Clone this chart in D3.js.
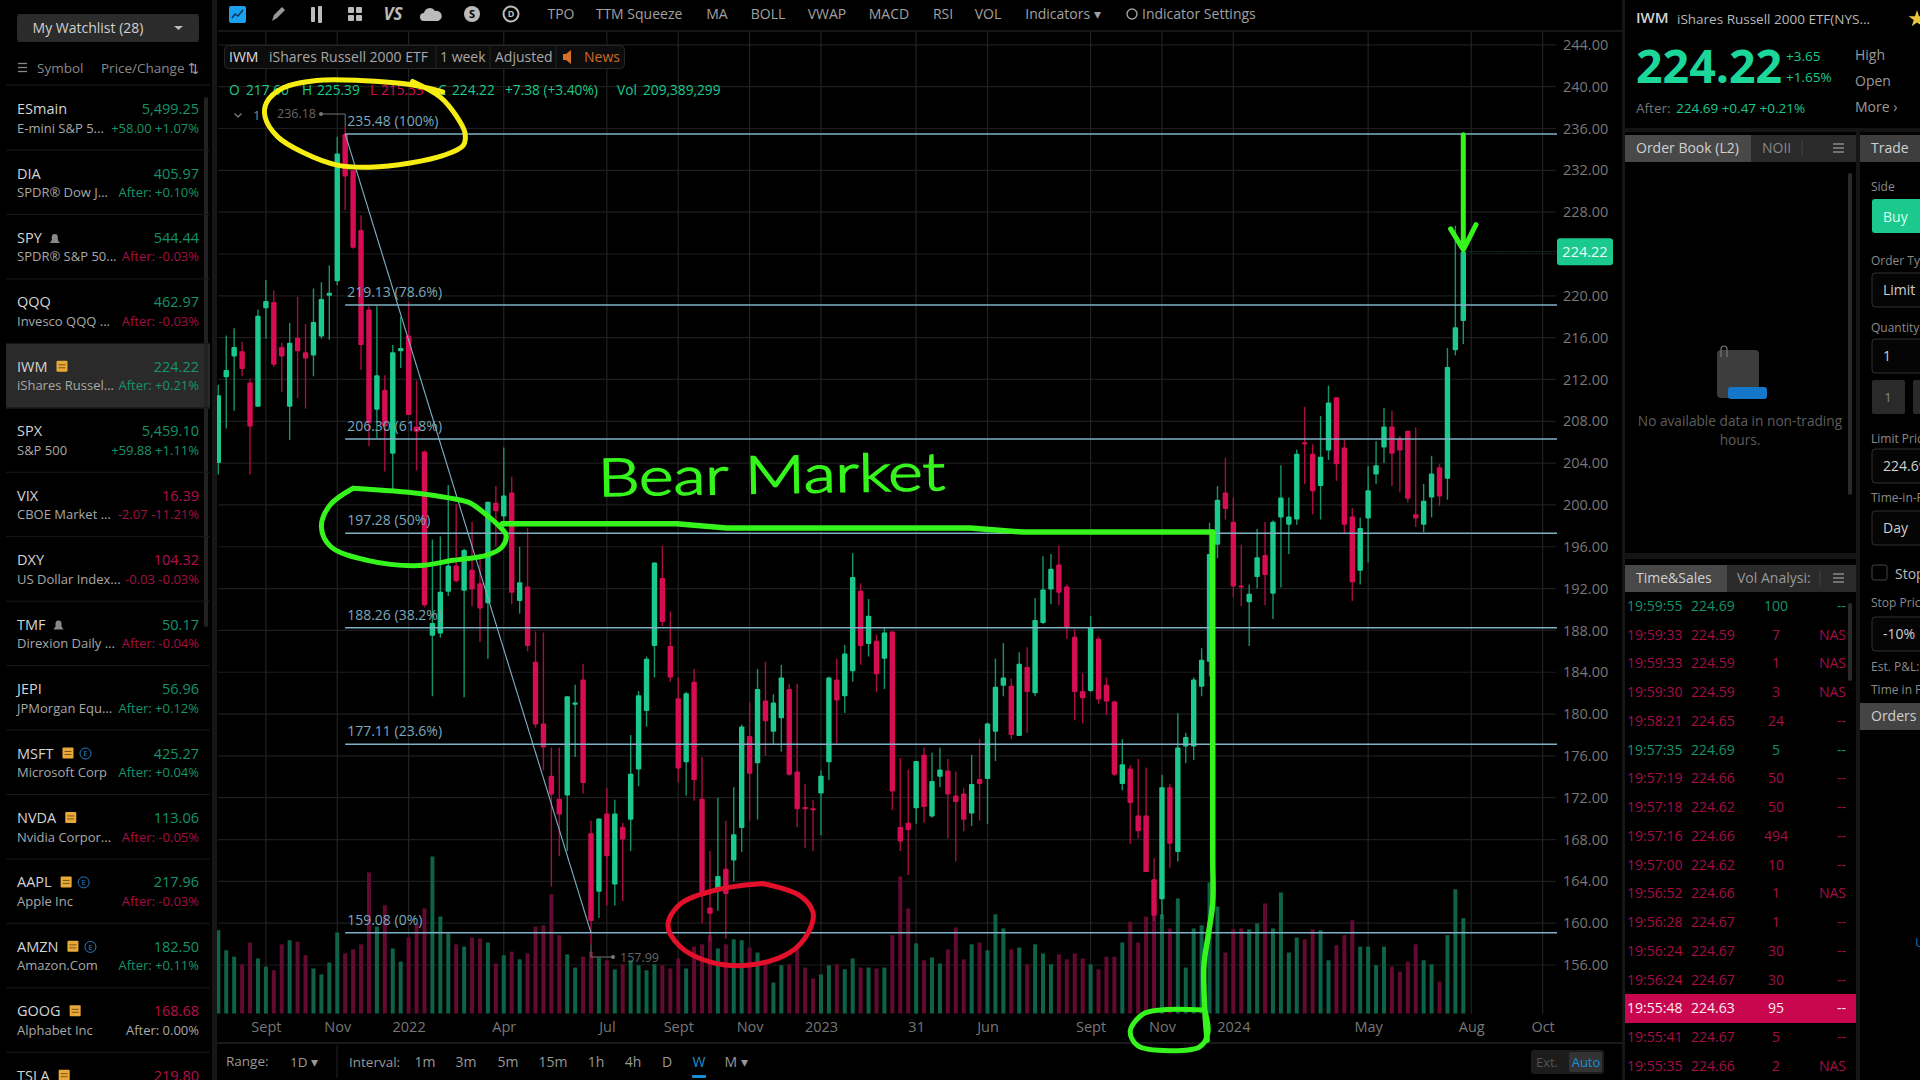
<!DOCTYPE html>
<html>
<head>
<meta charset="utf-8">
<script src="https://d3js.org/d3.v7.min.js"></script>
<style>
html, body { margin: 0; padding: 0; background: #000; overflow: hidden; }
svg { display: block; }
text { font-family: "Open Sans", "Noto Sans", sans-serif; }
</style>
</head>
<body>
<svg id="chart" width="1920" height="1080"></svg>
<script>
// weekly IWM candles
const opens = [204.0,212.2,214.2,214.7,211.7,209.4,218.8,219.4,215.1,209.4,
216.0,214.6,214.3,216.1,220.0,221.4,235.48,232.0,226.3,218.7,
209.1,211.0,204.9,214.7,216.2,207.5,205.1,187.5,187.7,191.7,
194.2,191.8,193.8,192.5,190.6,200.2,198.9,201.2,190.8,192.2,
185.0,179.1,174.1,171.9,172.2,180.9,183.3,168.6,163.0,170.5,
163.7,169.2,169.9,174.7,180.3,186.5,193.0,186.5,181.5,175.4,
183.1,171.9,161.5,163.3,165.2,166.0,169.1,177.9,175.3,181.3,
178.3,179.6,182.4,174.5,171.1,171.0,172.4,175.4,183.3,181.7,
184.1,191.8,186.7,187.0,185.3,187.9,169.2,169.6,171.0,176.1,
170.2,174.0,174.6,172.2,172.4,170.5,173.8,173.8,178.3,182.7,
182.7,177.9,184.5,182.0,188.7,191.9,194.3,192.2,187.4,182.2,
182.2,187.2,182.8,181.2,173.3,174.8,170.3,170.3,164.2,162.3,
173.0,166.8,176.9,176.9,182.6,185.0,196.2,201.2,198.4,192.3,
190.7,193.1,195.2,191.5,198.8,198.1,198.6,206.0,204.9,201.8,
205.2,210.3,205.5,198.9,193.7,198.7,202.9,205.5,207.5,206.4,
207.1,199.1,198.1,200.7,203.6,202.5,214.8,217.6];
const highs = [211.5,216.2,216.9,215.6,212.1,218.7,221.5,220.5,215.5,217.4,
219.9,217.3,220.7,221.3,222.9,235.2,236.18,232.0,227.7,219.0,
219.0,212.4,215.3,218.0,219.4,211.9,205.2,196.7,197.0,201.9,
200.1,195.8,198.4,195.0,200.3,201.8,205.5,202.7,196.0,197.8,
187.9,187.8,176.8,176.8,181.7,182.8,184.8,169.8,170.0,172.9,
171.8,169.6,178.0,182.2,185.5,194.5,196.1,189.8,183.5,182.1,
184.3,175.9,166.9,172.0,169.8,173.0,179.0,181.1,184.3,185.0,
181.9,184.7,182.9,182.9,173.3,171.8,174.6,183.6,185.3,186.6,
195.4,192.5,191.0,187.6,188.2,187.9,175.8,174.7,175.5,176.8,
176.3,176.8,175.7,174.5,172.9,176.1,177.6,179.2,185.3,186.8,
183.4,185.9,186.4,191.1,195.1,195.3,196.1,192.4,188.1,183.9,
189.4,187.4,183.5,181.3,177.6,175.1,175.7,174.9,166.2,174.2,
173.3,180.1,178.2,183.5,186.3,198.3,201.8,204.5,200.7,196.2,
192.4,197.7,198.4,198.5,203.8,200.7,205.3,209.4,205.8,208.5,
211.4,210.3,206.3,199.7,198.8,203.7,206.1,209.3,209.0,206.6,
207.1,207.4,202.0,204.7,203.9,215.0,226.7,225.39];
const lows = [202.9,207.3,209.0,212.3,202.9,209.4,215.9,213.2,210.8,206.2,
210.2,209.2,212.3,215.9,215.8,221.0,228.2,224.5,212.9,205.6,
206.4,203.2,201.4,213.1,208.6,203.3,190.2,181.7,187.3,191.3,
192.6,181.6,190.3,186.9,185.3,196.0,197.9,190.5,189.6,186.0,
178.7,174.6,163.5,166.4,166.9,175.9,172.4,157.99,160.5,161.7,
161.7,162.1,166.9,173.1,178.8,183.5,188.4,183.1,173.5,172.2,
171.7,160.0,158.2,161.2,158.5,164.0,166.8,169.8,169.9,176.0,
177.1,176.4,174.1,169.2,167.2,166.9,168.4,173.7,177.2,180.1,
183.1,184.7,185.5,182.1,182.4,170.8,166.9,164.6,169.5,169.6,
170.1,173.0,168.1,165.9,168.8,169.3,169.8,169.5,175.5,181.7,
177.6,177.9,178.2,181.7,188.6,190.5,190.4,187.2,179.4,179.1,
182.1,181.0,179.9,174.1,172.7,167.6,168.1,164.9,160.2,160.4,
165.3,165.9,175.3,175.6,181.7,183.6,194.9,198.6,191.2,190.3,
186.5,192.0,190.4,189.1,192.1,195.3,198.1,202.0,199.1,198.6,
204.3,202.3,197.2,190.8,192.4,194.5,202.0,204.0,201.8,201.2,
200.2,197.9,197.4,198.8,199.9,200.5,214.3,215.4];
const closes = [210.5,212.9,215.1,213.0,207.5,218.1,219.5,213.4,214.2,215.5,
214.7,214.0,217.5,219.7,220.3,233.6,231.4,224.6,215.3,207.8,
212.4,207.5,214.6,215.0,208.6,207.0,190.4,188.7,191.7,194.2,
192.7,195.7,191.9,190.1,200.3,199.4,200.9,191.6,192.6,186.5,
179.0,176.8,172.3,170.4,181.7,181.1,173.4,160.2,170.0,166.4,
170.5,168.0,174.3,181.8,185.3,194.5,188.8,183.5,174.8,182.0,
173.7,162.6,160.9,164.5,162.8,168.5,178.8,174.3,182.4,179.3,
181.1,183.5,174.2,170.9,170.9,170.8,174.1,183.5,181.3,185.8,
193.1,186.5,189.4,183.8,187.8,172.6,167.8,168.9,175.5,171.1,
173.6,174.7,172.3,171.6,169.9,173.3,173.3,179.1,182.6,183.5,
178.0,184.8,182.1,189.0,191.9,193.9,191.6,188.3,182.1,181.5,
188.3,181.4,181.2,174.2,175.2,171.5,168.8,164.9,160.7,173.0,
167.6,176.8,177.8,183.3,185.2,195.3,200.5,199.6,192.2,192.2,
191.5,195.0,193.3,198.4,200.7,198.9,204.9,205.8,201.3,204.6,
209.8,203.9,198.1,192.6,197.8,201.4,203.8,207.5,204.9,205.2,
200.6,198.7,200.4,203.0,200.8,213.2,217.0,224.22];
// volume in millions of shares
const volumes = [183,139,125,108,156,121,103,95,152,161,
158,128,99,86,112,178,132,141,152,310,
191,238,143,114,167,198,231,345,213,176,
152,147,167,165,156,110,128,136,119,132,
191,194,262,172,130,101,125,136,123,117,
97,108,117,106,95,108,106,99,121,99,
147,152,172,143,152,163,161,145,134,108,
68,106,108,141,101,77,86,106,108,97,
121,101,101,99,101,172,301,231,154,117,
123,110,141,189,119,152,156,139,218,187,
141,145,108,152,132,108,130,119,132,121,
108,97,125,125,156,202,156,213,218,218,
187,253,101,187,194,288,235,134,185,187,
185,198,242,187,266,134,167,163,185,183,
117,150,172,205,147,147,106,147,103,92,
114,152,117,108,70,172,273,209.389];

const priceTicks = d3.range(156, 245, 4);
const dateTickBars = [6,15,24,36,49,58,67,76,88,97,110,119,128,145,158,167];
const dateTickLabels = ["Sept","Nov","2022","Apr","Jul","Sept","Nov","2023","31","Jun","Sept","Nov","2024","May","Aug","Oct"];

const fibPrices = [235.48,219.13,206.30,197.28,188.26,177.11,159.08];
const fibPcts = ["100%","78.6%","61.8%","50%","38.2%","23.6%","0%"];
const swingHighBar = 16, swingLowBar = 47, lastBar = 157;

// the presenter's pen marks, as [bar, price]
const yellowInk = [[28.3,239.5],[24.2,240.2],[17.9,240.6],[12.4,240.6],[8.2,239.9],[6.1,238.5],[5.9,237.1],[7.5,235.2],[10.7,233.7],[15.0,232.5],[19.1,232.3],[24.2,232.7],[28.3,233.4],[30.9,234.4],[31.1,235.6],[30.1,237.1],[28.0,239.0],[24.5,240.5]];
const greenRing = [[17.0,201.6],[25.4,201.1],[29.6,200.6],[31.7,200.2],[33.9,199.0],[35.5,197.9],[36.3,197.1],[35.8,196.0],[33.9,195.2],[29.6,194.7],[25.4,194.2],[18.8,194.7],[14.2,196.0],[13.0,197.9],[14.1,200.0],[17.0,201.6]];
const greenRun = [[35.8,198.2],[57.8,198.2],[64.1,197.8],[94.8,197.8],[101.5,197.4],[125.4,197.4]];
const greenDrop = [[125.4,197.4],[125.4,183.4],[125.4,166.3],[125.4,161.9],[124.8,158.7],[124.3,156.0],[124.4,151.7],[124.7,148.8]];
const novLoop = [[124.4,151.7],[118.8,151.7],[116.6,151.3],[115.0,149.7],[115.9,148.3],[120.0,147.8],[123.8,148.2],[124.8,149.5],[124.4,151.7]];
const redInk = [[68.6,163.8],[73.4,162.6],[75.0,161.0],[74.4,159.1],[72.1,157.2],[67.0,156.0],[62.0,156.3],[58.2,157.8],[56.7,159.8],[58.2,161.8],[62.9,163.2],[68.6,163.8]];
const arrowShaft = [[157,235.4],[157,224.6]];
const arrowHead = [[155.4,226.4],[157,224.4],[158.6,226.8]];

const watchSymbols = ["ESmain","DIA","SPY","QQQ","IWM","SPX","VIX","DXY","TMF","JEPI","MSFT","NVDA","AAPL","AMZN","GOOG","TSLA"];
const watchNames = ["E-mini S&P 5...","SPDR® Dow J...","SPDR® S&P 50...","Invesco QQQ ...","iShares Russel...","S&P 500","CBOE Market ...","US Dollar Index...","Direxion Daily ...","JPMorgan Equ...","Microsoft Corp","Nvidia Corpor...","Apple Inc","Amazon.Com","Alphabet Inc",""];
const watchPrices = ["5,499.25","405.97","544.44","462.97","224.22","5,459.10","16.39","104.32","50.17","56.96","425.27","113.06","217.96","182.50","168.68","219.80"];
const watchSubs = ["+58.00 +1.07%","After: +0.10%","After: -0.03%","After: -0.03%","After: +0.21%","+59.88 +1.11%","-2.07 -11.21%","-0.03 -0.03%","After: -0.04%","After: +0.12%","After: +0.04%","After: -0.05%","After: -0.03%","After: +0.11%","After: 0.00%",""];
const watchPriceDown = ["VIX","DXY","GOOG","TSLA"];
const watchBell = ["SPY","TMF"];
const watchNote = ["IWM","MSFT","NVDA","AAPL","AMZN","GOOG","TSLA"];
const watchEarn = ["MSFT","AAPL","AMZN"];

const saleTimes = ["19:59:55","19:59:33","19:59:33","19:59:30","19:58:21","19:57:35","19:57:19","19:57:18","19:57:16","19:57:00","19:56:52","19:56:28","19:56:24","19:56:24","19:55:48","19:55:41","19:55:35"];
const salePrices = ["224.69","224.59","224.59","224.59","224.65","224.69","224.66","224.62","224.66","224.62","224.66","224.67","224.67","224.67","224.63","224.67","224.66"];
const saleSizes = [100,7,1,3,24,5,50,50,494,10,1,1,30,30,95,5,2];
const saleVenues = ["--","NAS","NAS","NAS","--","--","--","--","--","--","NAS","--","--","--","--","--","NAS"];
const saleUp = [0,5];
const saleBig = 14;

const toolLabels = ["TPO","TTM Squeeze","MA","BOLL","VWAP","MACD","RSI","VOL","Indicators ▾"];
const intervalLabels = ["1m","3m","5m","15m","1h","4h","D","W","M ▾"];

const UP = "#1bc98e", DOWN = "#d60d55", UPWICK = "#15936a", DOWNWICK = "#a90c45";
const UPVOL = "#0e6247", DOWNVOL = "#630a30";
const FIB = "#7fb2c6", PEN = "#35f51c";

const svg = d3.select("#chart");

function label(g, x, y, s, size, fill, anchor, weight) {
  return g.append("text").attr("x", x).attr("y", y).attr("dy", "0.35em")
    .attr("font-size", size).attr("fill", fill)
    .attr("text-anchor", anchor || "start").attr("font-weight", weight || 400).text(s);
}
function box(g, x, y, w, h, fill, r, stroke) {
  return g.append("rect").attr("x", x).attr("y", y).attr("width", w).attr("height", h)
    .attr("fill", fill).attr("rx", r || 0).attr("stroke", stroke || "none");
}

// scales
const x = d3.scaleLinear().domain([0, lastBar]).range([218.3, 1463.3]);
const y = d3.scaleLinear().domain([156, 236]).range([965, 128.5]);
const yVol = d3.scaleLinear().domain([0, 345]).range([1013.5, 856.5]);
const bars = d3.range(opens.length);
const isUp = i => closes[i] >= opens[i];

// grid
const grid = svg.append("g");
grid.selectAll(".gh").data(priceTicks).join("line")
  .attr("x1", 218).attr("x2", 1556).attr("y1", d => y(d)).attr("y2", d => y(d))
  .attr("stroke", "#1d1d1d").attr("stroke-width", 1.2);
grid.selectAll(".gv").data(dateTickBars).join("line")
  .attr("x1", d => x(d)).attr("x2", d => x(d)).attr("y1", 32).attr("y2", 1014)
  .attr("stroke", "#222").attr("stroke-width", 1.2);

// axes
const yAxis = d3.axisRight(y).tickValues(priceTicks).tickFormat(d3.format(".2f")).tickSize(0).tickPadding(0);
const gy = svg.append("g").attr("transform", "translate(1563,0)").call(yAxis);
const xAxis = d3.axisBottom(x).tickValues(dateTickBars).tickFormat((d, i) => dateTickLabels[i]).tickSize(0).tickPadding(0);
const gx = svg.append("g").attr("transform", "translate(0,1022)").call(xAxis);
[gy, gx].forEach(g => {
  g.select(".domain").remove();
  g.selectAll("text").attr("fill", "#777").attr("font-size", 14.5)
    .attr("font-family", '"Open Sans", sans-serif');
});

// volume and candles
svg.append("clipPath").attr("id", "plotClip").append("rect")
  .attr("x", 216.5).attr("y", 32).attr("width", 1340).attr("height", 985);
const plot = svg.append("g").attr("clip-path", "url(#plotClip)");

plot.selectAll(".vol").data(bars).join("rect")
  .attr("x", i => x(i) - 2).attr("width", 4)
  .attr("y", i => yVol(volumes[i])).attr("height", i => yVol(0) - yVol(volumes[i]))
  .attr("fill", i => isUp(i) ? UPVOL : DOWNVOL);

plot.selectAll(".wick").data(bars).join("line")
  .attr("x1", i => x(i)).attr("x2", i => x(i))
  .attr("y1", i => y(highs[i])).attr("y2", i => y(lows[i]))
  .attr("stroke", i => isUp(i) ? UPWICK : DOWNWICK).attr("stroke-width", 1.4);

plot.selectAll(".body").data(bars).join("rect")
  .attr("x", i => x(i) - 2.7).attr("width", 5.4).attr("rx", 1)
  .attr("y", i => y(Math.max(opens[i], closes[i])))
  .attr("height", i => Math.max(2, Math.abs(y(opens[i]) - y(closes[i]))))
  .attr("fill", i => isUp(i) ? UP : DOWN);

// fib retracement
const fib = svg.append("g");
fib.selectAll(".fl").data(fibPrices).join("line")
  .attr("x1", x(swingHighBar)).attr("x2", 1557)
  .attr("y1", d => y(d)).attr("y2", d => y(d))
  .attr("stroke", FIB).attr("stroke-width", 1.5);
fib.append("line")
  .attr("x1", x(swingHighBar)).attr("y1", y(fibPrices[0]))
  .attr("x2", x(swingLowBar)).attr("y2", y(fibPrices[6]))
  .attr("stroke", FIB).attr("stroke-width", 1.1);
fib.selectAll(".ft").data(fibPrices).join("text")
  .attr("x", x(swingHighBar) + 2).attr("y", d => y(d) - 8)
  .attr("font-size", 14).attr("fill", "#7ba8bd")
  .text((d, i) => `${d.toFixed(2)} (${fibPcts[i]})`);

// high/low callouts
const hi = svg.append("g");
label(hi, 277, 114, "236.18", 12.5, "#666");
hi.append("path").attr("fill", "none").attr("stroke", "#777")
  .attr("d", d3.line()([[320, 114], [x(swingHighBar), 114], [x(swingHighBar), y(highs[swingHighBar])]]));
hi.append("circle").attr("cx", 321).attr("cy", 114).attr("r", 2).attr("fill", "#777");
label(hi, 620, 958, "157.99", 12.5, "#666");
hi.append("path").attr("fill", "none").attr("stroke", "#777")
  .attr("d", d3.line()([[x(swingLowBar), y(lows[swingLowBar])], [x(swingLowBar), 957], [613, 957]]));
hi.append("circle").attr("cx", 613).attr("cy", 957).attr("r", 2).attr("fill", "#777");

// last price tag
svg.append("line").attr("x1", x(lastBar) + 3).attr("x2", 1557)
  .attr("y1", y(closes[lastBar])).attr("y2", y(closes[lastBar]))
  .attr("stroke", "#0f3d2c").attr("stroke-dasharray", "2,1");
box(svg, 1557, y(closes[lastBar]) - 13.5, 56, 27, UP, 3);
label(svg, 1585, y(closes[lastBar]), closes[lastBar].toFixed(2), 14.5, "#eafff6", "middle");

// chart header
const head = svg.append("g");
box(head, 224.5, 45.5, 400, 23, "#0c0c0c", 4, "#262626");
label(head, 229, 57, "IWM", 14, "#ddd");
label(head, 269, 57, "iShares Russell 2000 ETF", 14, "#a8a8a8");
label(head, 440, 57, "1 week", 14, "#a8a8a8");
label(head, 495, 57, "Adjusted", 14, "#a8a8a8");
label(head, 584, 57, "News", 14, "#cf6a27");
[436, 490, 556].forEach(v => head.append("line").attr("x1", v).attr("x2", v).attr("y1", 46).attr("y2", 68).attr("stroke", "#262626"));
head.append("path").attr("fill", "#d8702a").attr("d", "M563 54h3l5-4v14l-5-4h-3z");

const ohlc = [[229,"O",UP],[246,"217.60",UP],[302,"H",UP],[317,"225.39",UP],[370,"L",DOWN],[381,"215.53",DOWN],[438,"C",UP],[452,"224.22",UP],[505,"+7.38 (+3.40%)",UP],[617,"Vol",UP],[643,"209,389,299",UP]];
ohlc.forEach(d => label(head, d[0], 90, d[1], 13.7, d[2]));
label(head, 253, 115, "1", 13, "#888");
head.append("path").attr("fill", "none").attr("stroke", "#888").attr("stroke-width", 1.2).attr("d", "M234.5 113.5l3.5 3.5 3.5-3.5");

// toolbar
const tb = svg.append("g");
box(tb, 229, 6, 17, 17, "#19a0ef", 2);
tb.append("path").attr("d", "M232 18l3-4 3 2 5-6").attr("fill", "none").attr("stroke", "#06365a").attr("stroke-width", 1.5);
tb.append("path").attr("d", "M272 21l2-6 8-8 3 3-8 8z").attr("fill", "#999");
box(tb, 311, 7, 4, 15, "#bbb", 1); box(tb, 318, 6, 4, 17, "#bbb", 1);
[[348,7],[356,7],[348,15],[356,15]].forEach(d => box(tb, d[0], d[1], 6, 6, "#bbb", 1));
tb.append("text").attr("x", 393).attr("y", 20).attr("text-anchor", "middle").attr("font-size", 17).attr("font-weight", 700).attr("font-style", "italic").attr("fill", "#bbb").text("VS");
tb.append("path").attr("d", "M424 21a4 4 0 0 1 0-8a6 6 0 0 1 11-2a5 5 0 0 1 3 10z").attr("fill", "#bbb");
tb.append("circle").attr("cx", 472).attr("cy", 14).attr("r", 8).attr("fill", "#bbb");
label(tb, 472, 14, "S", 11, "#000", "middle", 700);
tb.append("circle").attr("cx", 511).attr("cy", 14).attr("r", 7.5).attr("fill", "none").attr("stroke", "#bbb").attr("stroke-width", 2);
label(tb, 511, 14, "D", 9, "#bbb", "middle", 700);
const toolX = [561,639,717,768,827,889,943,988,1063];
toolLabels.forEach((s, i) => label(tb, toolX[i], 14, s, 14, "#a0a0a0", "middle"));
tb.append("circle").attr("cx", 1132).attr("cy", 14).attr("r", 5).attr("fill", "none").attr("stroke", "#a0a0a0").attr("stroke-width", 1.4);
label(tb, 1142, 14, "Indicator Settings", 14, "#a0a0a0");
tb.append("line").attr("x1", 218).attr("x2", 1622).attr("y1", 31).attr("y2", 31).attr("stroke", "#1e1e1e").attr("stroke-width", 1.5);

// range / interval bar
const foot = svg.append("g");
foot.append("line").attr("x1", 216).attr("x2", 1622).attr("y1", 1043).attr("y2", 1043).attr("stroke", "#222").attr("stroke-width", 1.5);
label(foot, 226, 1061, "Range:", 13.5, "#999");
label(foot, 290, 1062, "1D ▾", 13.5, "#999");
foot.append("line").attr("x1", 337).attr("x2", 337).attr("y1", 1045).attr("y2", 1078).attr("stroke", "#222");
label(foot, 349, 1062, "Interval:", 13.5, "#999");
const intervalX = [425,466,508,553,596,633,667,699,736];
intervalLabels.forEach((s, i) => label(foot, intervalX[i], 1062, s, 14, s === "W" ? "#1a8fd6" : "#999", "middle"));
box(foot, 692, 1075, 14, 3, "#1a8fd6", 1);
box(foot, 1531, 1050, 73, 24, "#1c1c1c", 3);
box(foot, 1569, 1052, 33, 20, "#333", 2);
label(foot, 1547, 1062, "Ext.", 13, "#555", "middle");
label(foot, 1586, 1062, "Auto", 13, "#1a8fd6", "middle");

// pen marks
const pen = d3.line().x(d => x(d[0])).y(d => y(d[1])).curve(d3.curveCatmullRom.alpha(0.5));
const penStraight = d3.line().x(d => x(d[0])).y(d => y(d[1]));
const ink = svg.append("g").attr("fill", "none").attr("stroke-linecap", "round").attr("stroke-linejoin", "round");
ink.append("path").attr("d", pen(yellowInk)).attr("stroke", "#f6ee12").attr("stroke-width", 5);
ink.append("path").attr("d", pen(redInk)).attr("stroke", "#e3102b").attr("stroke-width", 5);
ink.append("path").attr("d", pen(greenRing)).attr("stroke", PEN).attr("stroke-width", 5);
ink.append("path").attr("d", penStraight(greenRun)).attr("stroke", PEN).attr("stroke-width", 5.5);
ink.append("path").attr("d", pen(greenDrop)).attr("stroke", PEN).attr("stroke-width", 5.5);
ink.append("path").attr("d", pen(novLoop)).attr("stroke", PEN).attr("stroke-width", 5);
ink.append("path").attr("d", penStraight(arrowShaft)).attr("stroke", PEN).attr("stroke-width", 5);
ink.append("path").attr("d", penStraight(arrowHead)).attr("stroke", PEN).attr("stroke-width", 5);
svg.append("text").attr("x", 598).attr("y", 493)
  .attr("textLength", 347).attr("lengthAdjust", "spacingAndGlyphs")
  .attr("font-size", 52).attr("fill", PEN).attr("stroke", PEN).attr("stroke-width", 1.6)
  .attr("style", 'font-family:"Lato",sans-serif;font-weight:300')
  .attr("transform", "rotate(-1 770 480)").text("Bear Market");

// watchlist panel
const wl = svg.append("g");
box(wl, 0, 0, 212, 1080, "#000");
box(wl, 212, 0, 5, 1080, "#161616");
box(wl, 17, 14, 182, 28, "#2b2b2b", 3);
label(wl, 88, 28, "My Watchlist (28)", 14, "#d0d0d0", "middle");
wl.append("path").attr("d", "M174 26h9l-4.5 4z").attr("fill", "#bbb");
[63.5, 67.5, 71.5].forEach(v => wl.append("line").attr("x1", 18).attr("x2", 27).attr("y1", v).attr("y2", v).attr("stroke", "#888").attr("stroke-width", 1.3));
label(wl, 37, 68, "Symbol", 13.5, "#888");
label(wl, 101, 68, "Price/Change", 13.5, "#888");
label(wl, 188, 68, "⇅", 13, "#aaa");
wl.append("line").attr("x1", 6).attr("x2", 210).attr("y1", 85).attr("y2", 85).attr("stroke", "#1c1c1c");
box(wl, 6, 344, 204, 64.5, "#2a2a2a");
box(wl, 204, 97, 4, 530, "#222", 2);
watchSymbols.forEach((s, i) => {
  const ty = 109 + 64.45 * i;
  const down = watchPriceDown.includes(s);
  const sub = watchSubs[i];
  const subFill = sub.includes("0.00%") ? "#aaa" : sub.includes("-") ? "#a60d45" : "#159469";
  wl.append("line").attr("x1", 6).attr("x2", 210).attr("y1", ty + 41).attr("y2", ty + 41).attr("stroke", "#181818");
  const nameText = label(wl, 17, ty, s, 14.5, "#d4d4d4");
  const nw = nameText.node().getComputedTextLength() + 30;
  label(wl, 199, ty, watchPrices[i], 14.5, down ? "#b60e4c" : UPWICK, "end");
  label(wl, 17, ty + 19, watchNames[i], 13, "#a8a8a8");
  label(wl, 199, ty + 19, sub, 13, subFill, "end");
  if (watchBell.includes(s)) wl.append("path").attr("transform", `translate(${nw},${ty})`)
    .attr("d", "M-5 5h10l-2-3v-3a3 3 0 0 0-6 0v3z").attr("fill", "#888");
  if (watchNote.includes(s)) {
    box(wl, nw - 4, ty - 6, 11, 11, "#e8a93a", 1);
    wl.append("path").attr("transform", `translate(${nw - 2},${ty - 3})`).attr("d", "M0 1h7M0 4h7").attr("stroke", "#7a5510").attr("stroke-width", 1);
    if (watchEarn.includes(s)) {
      wl.append("circle").attr("cx", nw + 19).attr("cy", ty).attr("r", 5.5).attr("fill", "none").attr("stroke", "#2b7fc4");
      label(wl, nw + 19, ty, "E", 8, "#2b7fc4", "middle");
    }
  }
});

// right side: quote
const rp = svg.append("g");
box(rp, 1622, 0, 3, 1080, "#161616");
label(rp, 1636, 18, "IWM", 15, "#d4d4d4", "start", 600);
label(rp, 1677, 19, "iShares Russell 2000 ETF(NYS...", 13.5, "#b8b8b8");
rp.append("path").attr("transform", "translate(1917,19)").attr("d", d3.symbol(d3.symbolStar, 90)()).attr("fill", "#e8c53a");
label(rp, 1636, 67, "224.22", 46.5, "#1cd69a", "start", 700);
label(rp, 1786, 56, "+3.65", 13.5, UP);
label(rp, 1786, 77, "+1.65%", 13.5, UP);
label(rp, 1855, 55, "High", 14, "#999");
label(rp, 1855, 81, "Open", 14, "#999");
label(rp, 1855, 107, "More ›", 14, "#999");
label(rp, 1636, 108, "After:", 13.5, "#777");
label(rp, 1676, 108, "224.69 +0.47 +0.21%", 13.5, UP);

// order book
box(rp, 1625, 128, 295, 4, "#141414");
box(rp, 1625, 135, 231, 27, "#2a2a2a");
box(rp, 1625, 135, 126, 27, "#484848");
label(rp, 1636, 148, "Order Book (L2)", 14, "#d0d0d0");
label(rp, 1762, 148, "NOII", 14, "#888");
rp.append("line").attr("x1", 1802).attr("x2", 1802).attr("y1", 141).attr("y2", 155).attr("stroke", "#444");
function listIcon(cy) {
  [-4, 0, 4].forEach(d => rp.append("line").attr("x1", 1833).attr("x2", 1844).attr("y1", cy + d).attr("y2", cy + d).attr("stroke", "#999").attr("stroke-width", 1.3));
}
listIcon(148);
box(rp, 1848, 173, 4, 322, "#2a2a2a", 2);
box(rp, 1717, 350, 42, 48, "#3d3d3d", 4);
box(rp, 1728, 387, 39, 12, "#1577c9", 3);
rp.append("path").attr("d", "M1721 357v-8a3 3 0 0 1 6 0v8").attr("fill", "none").attr("stroke", "#777").attr("stroke-width", 1.2);
label(rp, 1740, 421, "No available data in non-trading", 13.7, "#5e5e5e", "middle");
label(rp, 1740, 440, "hours.", 13.7, "#5e5e5e", "middle");
box(rp, 1856, 128, 4, 952, "#161616");
box(rp, 1625, 553, 231, 6, "#141414");

// trade ticket (runs off the right edge)
box(rp, 1860, 135, 60, 27, "#3e3e3e");
label(rp, 1871, 148, "Trade", 14, "#d0d0d0");
const ticketLabels = [[187,"Side"],[261,"Order Ty"],[328,"Quantity"],[439,"Limit Pric"],[498,"Time-in-F"],[603,"Stop Pric"],[667,"Est. P&L:"],[690,"Time in F"]];
ticketLabels.forEach(d => label(rp, 1871, d[0], d[1], 12, "#8a8a8a"));
box(rp, 1872, 199, 60, 34, UP, 3);
label(rp, 1883, 217, "Buy", 14, "#d8fff0");
const ticketBoxes = [[273,"Limit"],[339,"1"],[449,"224.69"],[511,"Day"],[617,"-10%"]];
ticketBoxes.forEach(d => {
  box(rp, 1872, d[0], 60, 34, "#050505", 3, "#303030");
  label(rp, 1883, d[0] + 17, d[1], 14, "#cfcfcf");
});
box(rp, 1872, 380, 33, 34, "#2a2a2a", 2);
label(rp, 1888, 397, "1", 13, "#888", "middle");
box(rp, 1913, 380, 20, 34, "#2a2a2a", 2);
box(rp, 1872, 565, 15, 15, "#000", 2, "#444");
label(rp, 1895, 574, "Stop", 14, "#bbb");
box(rp, 1860, 703, 60, 27, "#444");
label(rp, 1871, 716, "Orders", 14, "#d0d0d0");
label(rp, 1915, 942, "U", 13, "#1a6fa8");

// time and sales
box(rp, 1625, 565, 231, 27, "#2a2a2a");
box(rp, 1625, 565, 102, 27, "#484848");
label(rp, 1636, 578, "Time&Sales", 14, "#d0d0d0");
label(rp, 1737, 578, "Vol Analysi:", 14, "#999");
rp.append("line").attr("x1", 1820).attr("x2", 1820).attr("y1", 571).attr("y2", 585).attr("stroke", "#444");
listIcon(578);
box(rp, 1848, 603, 4, 78, "#2a2a2a", 2);
box(rp, 1625, 994, 231, 29, "#c8074f");
saleTimes.forEach((t, i) => {
  const ty = 606 + 28.75 * i;
  const fill = i === saleBig ? "#ffe9f0" : saleUp.includes(i) ? UPWICK : "#a60d45";
  label(rp, 1627, ty, t, 14, fill);
  label(rp, 1691, ty, salePrices[i], 14, fill);
  label(rp, 1776, ty, saleSizes[i], 14, fill, "middle");
  label(rp, 1846, ty, saleVenues[i], 14, fill, "end");
});
</script>
</body>
</html>
